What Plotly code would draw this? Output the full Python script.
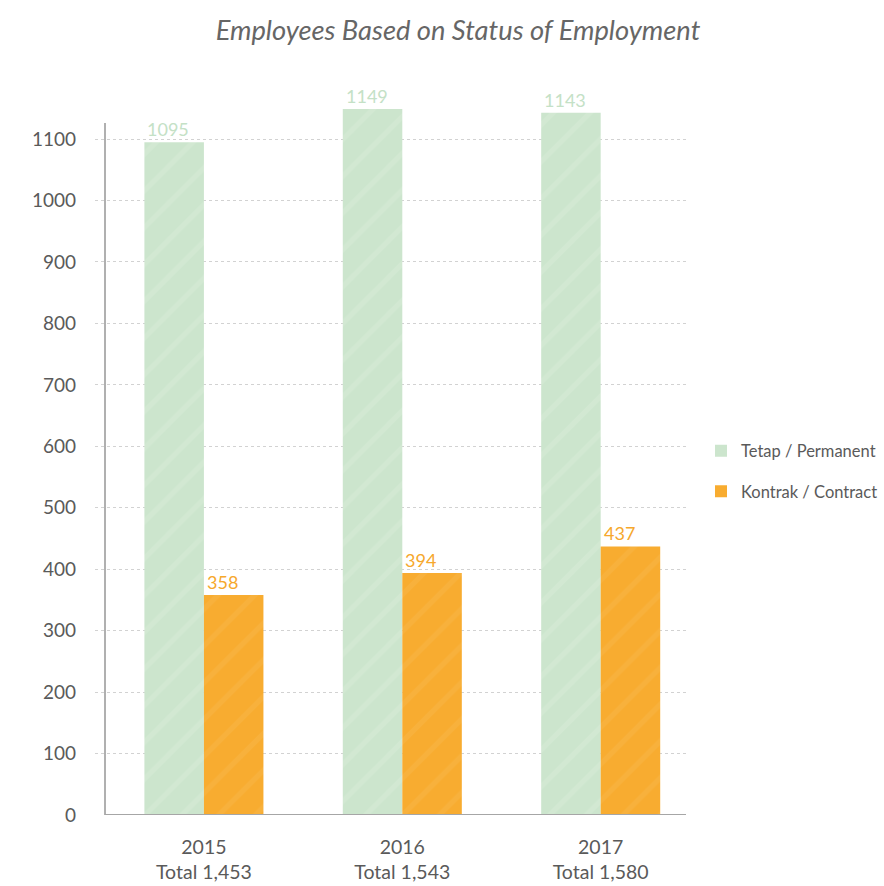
import plotly.graph_objects as go

# Employee counts by status of employment
years = ["2015", "2016", "2017"]
totals = ["1,453", "1,543", "1,580"]
permanent = [1095, 1149, 1143]
contract = [358, 394, 437]
y_ticks = [0, 100, 200, 300, 400, 500, 600, 700, 800, 900, 1000, 1100]
AXIS_TOP = 1126   # where the drawn value-axis line stops
Y_RANGE = 1175    # headroom so the tallest bars are not clipped

GREEN = "#cce5cd"
ORANGE = "#f8ac30"
GREEN_TXT = "#c4e1c6"
ORANGE_TXT = "#f6a82c"
GREY = "#5a5a5a"
FONT = "Lato"

xs = list(range(len(years)))
half = 0.3           # half of a category's bar group width
axis_x = 10 / 591    # value-axis line sits a little right of the grid start

fig = go.Figure()
fig.add_trace(go.Bar(
    x=xs, y=permanent, name="Tetap / Permanent", showlegend=False,
    marker=dict(color=GREEN, line=dict(width=0),
                pattern=dict(shape="/", fgcolor="rgba(255,255,255,0.22)",
                             size=26, solidity=0.2, fillmode="overlay")),
))
fig.add_trace(go.Bar(
    x=xs, y=contract, name="Kontrak / Contract", showlegend=False,
    marker=dict(color=ORANGE, line=dict(width=0),
                pattern=dict(shape="/", fgcolor="rgba(255,255,255,0.12)",
                             size=26, solidity=0.2, fillmode="overlay")),
))

# small square legend keys
for name, col, grp in [("Tetap / Permanent", GREEN, "a"),
                       ("Kontrak / Contract", ORANGE, "b")]:
    fig.add_trace(go.Scatter(
        x=[None], y=[None], mode="markers", name=name, legendgroup=grp,
        marker=dict(symbol="square", size=8, color=col),
    ))

# value labels, left-aligned over each bar
for i, (p, c) in enumerate(zip(permanent, contract)):
    fig.add_annotation(x=i - half, y=p, xref="x", yref="y",
                       text=str(p), xanchor="left", yanchor="bottom",
                       showarrow=False, xshift=1, yshift=0,
                       font=dict(family=FONT, size=18, color=GREEN_TXT))
    fig.add_annotation(x=i, y=c, xref="x", yref="y",
                       text=str(c), xanchor="left", yanchor="bottom",
                       showarrow=False, xshift=1, yshift=0,
                       font=dict(family=FONT, size=18, color=ORANGE_TXT))

# axis lines
fig.add_shape(type="line", xref="paper", yref="y", x0=axis_x, x1=axis_x,
              y0=0, y1=AXIS_TOP, line=dict(color="#b0b0b0", width=2),
              layer="above")
fig.add_shape(type="line", xref="paper", yref="y", x0=axis_x, x1=1,
              y0=0, y1=0, line=dict(color="#a6a6a6", width=2),
              layer="above")

fig.update_layout(
    width=884, height=886,
    paper_bgcolor="white", plot_bgcolor="white",
    margin=dict(l=95, r=198, t=93, b=71),
    barmode="group", bargap=0.4, bargroupgap=0,
    title=dict(
        text="<i>Employees Based on Status of Employment</i>",
        x=458 / 884, xanchor="center", y=1 - 30 / 886, yanchor="middle",
        font=dict(family=FONT, size=27.3, color="#666666"),
    ),
    legend=dict(
        xref="container", yref="container",
        x=701 / 884, xanchor="left", y=1 - 471 / 886, yanchor="middle",
        font=dict(family=FONT, size=16.5, color=GREY),
        itemsizing="constant", tracegroupgap=16, itemwidth=30,
        bgcolor="rgba(0,0,0,0)",
    ),
    showlegend=True,
    font=dict(family=FONT, color=GREY),
)

fig.update_xaxes(
    range=[-0.549, 2.43],
    tickvals=xs,
    ticktext=[f"{y}<br>Total {t}" for y, t in zip(years, totals)],
    tickfont=dict(family=FONT, size=19.5, color=GREY),
    showline=False, showgrid=False, zeroline=False, ticks="",
    ticklabelstandoff=18, automargin=False,
)
fig.update_yaxes(
    range=[0, Y_RANGE],
    tickvals=y_ticks,
    tickfont=dict(family=FONT, size=19, color=GREY),
    showline=False,
    showgrid=True, gridcolor="#d2d2d2", griddash="3px,3px", gridwidth=1,
    zeroline=False, ticks="", ticklabelstandoff=18, automargin=False,
)

fig.write_html("out.html")
